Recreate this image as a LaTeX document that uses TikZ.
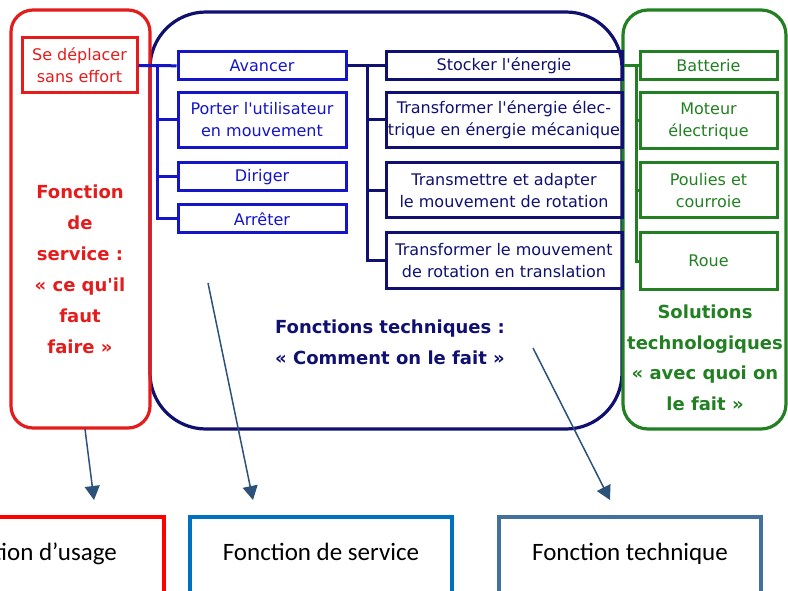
\documentclass[tikz,border=0pt]{standalone}
\usepackage{fontspec}
\usetikzlibrary{arrows.meta}
\newfontfamily\comic{DejaVu Sans}
\newfontfamily\calib{Carlito}
\definecolor{redc}{RGB}{228,28,28}
\definecolor{bluec}{RGB}{20,20,200}
\definecolor{navyc}{RGB}{16,16,112}
\definecolor{greenc}{RGB}{34,128,34}
\definecolor{arrowc}{RGB}{44,82,122}
\definecolor{servc}{RGB}{0,112,192}
\definecolor{techc}{RGB}{65,113,156}

\tikzstyle{smallbox}=[line width=3pt,align=center,inner sep=0pt,minimum height=28pt,font=\comic\fontsize{16}{22}\selectfont]
\tikzstyle{tall}=[minimum height=55pt]
\tikzstyle{redbox}=[smallbox,draw=redc,text=redc,minimum width=115pt]
\tikzstyle{bluebox}=[smallbox,draw=bluec,text=bluec,minimum width=168pt]
\tikzstyle{navybox}=[smallbox,draw=navyc,text=navyc,minimum width=236pt]
\tikzstyle{greenbox}=[smallbox,draw=greenc,text=greenc,minimum width=137pt]
\tikzstyle{bigtext}=[align=center,inner sep=0pt,font=\comic\bfseries\fontsize{18}{31}\selectfont]
\tikzstyle{bottombox}=[line width=4pt,anchor=north,minimum width=262pt,inner sep=0pt,text height=43pt,text depth=50pt,text=black,font=\calib\fontsize{25}{30}\selectfont]
\tikzstyle{pointer}=[arrowc,line width=1.5pt,-{Triangle[length=14pt,width=15pt]}]

\begin{document}
\begin{tikzpicture}[x=1pt,y=-1pt]
    \useasboundingbox (0,0) rectangle (788,591);

    % the three frames
    \draw[navyc,line width=3.2pt,rounded corners=56pt] (150,12) rectangle (622,429);
    \draw[greenc,line width=3.2pt,rounded corners=25pt] (623,10) rectangle (786,429);
    \draw[redc,line width=3.2pt,rounded corners=22pt] (11,10) rectangle (150,428);

    \node[redbox,tall] (sd) at (79.5,65.5) {Se déplacer\\sans effort};

    \node[bluebox] (av) at (262,66) {Avancer};
    \node[bluebox,tall] (po) at (262,120) {Porter l'utilisateur\\en mouvement};
    \node[bluebox] (di) at (262,177) {Diriger};
    \node[bluebox] (ar) at (262,219) {Arrêter};

    \node[navybox] (st) at (504,66) {Stocker l'énergie};
    \node[navybox,tall] (te) at (504,120) {Transformer l'énergie élec-\\trique en énergie mécanique};
    \node[navybox,tall] (ta) at (504,190.5) {Transmettre et adapter\\le mouvement de rotation};
    \node[navybox,tall] (tt) at (504,260.5) {Transformer le mouvement\\de rotation en translation};

    \node[greenbox] (ba) at (708.5,66) {Batterie};
    \node[greenbox,minimum height=56pt] (mo) at (708.5,121) {Moteur\\électrique};
    \node[greenbox,tall] (pc) at (708.5,190.5) {Poulies et\\courroie};
    \node[greenbox,minimum height=56pt] (ro) at (708.5,261) {Roue};

    % links
    \coordinate (b1) at (157,66);
    \coordinate (b2) at (367,66);
    \coordinate (b3) at (636,66);
    \draw[bluec,line width=3pt] (sd) -- (av);
    \draw[bluec,line width=3pt] (b1) |- (po.west);
    \draw[bluec,line width=3pt] (b1) |- (di.west);
    \draw[bluec,line width=3pt] (b1) |- (ar.west);
    \draw[navyc,line width=3pt] (av) -- (st);
    \draw[navyc,line width=3pt] (b2) |- (te.west);
    \draw[navyc,line width=3pt] (b2) |- (ta.west);
    \draw[navyc,line width=3pt] (b2) |- (tt.west);
    \draw[greenc,line width=3pt] (st) -- (ba);
    \draw[greenc,line width=3pt] (b3) |- (mo.west);
    \draw[greenc,line width=3pt] (b3) |- (pc.west);
    \draw[greenc,line width=3pt] (b3) |- (ro.west);

    \node[bigtext,text=redc] (fsv) at (80,269) {Fonction\\de\\service :\\« ce qu'il\\faut\\faire »};
    \node[bigtext,text=navyc] (fte) at (390,342) {Fonctions techniques :\\« Comment on le fait »};
    \node[bigtext,text=greenc,font=\comic\bfseries\fontsize{18}{30.5}\selectfont] (sol) at (705,358) {Solutions\\technologiques\\« avec quoi on\\le fait »};

    % bottom boxes
    \node[bottombox,draw=red,minimum width=266pt] (fu) at (31,515) {Fonction d’usage};
    \node[bottombox,draw=servc] (fs) at (321,515) {Fonction de service};
    \node[bottombox,draw=techc] (ft) at (630,515) {Fonction technique};

    \coordinate (p1) at (85,429);
    \coordinate (p2) at (208,283);
    \coordinate (p3) at (533,348);
    \draw[pointer] (p1) -- ([xshift=63pt,yshift=15pt]fu.north);
    \draw[pointer] (p2) -- ([xshift=-68pt,yshift=15pt]fs.north);
    \draw[pointer] (p3) -- ([xshift=-20pt,yshift=15pt]ft.north);
\end{tikzpicture}
\end{document}
